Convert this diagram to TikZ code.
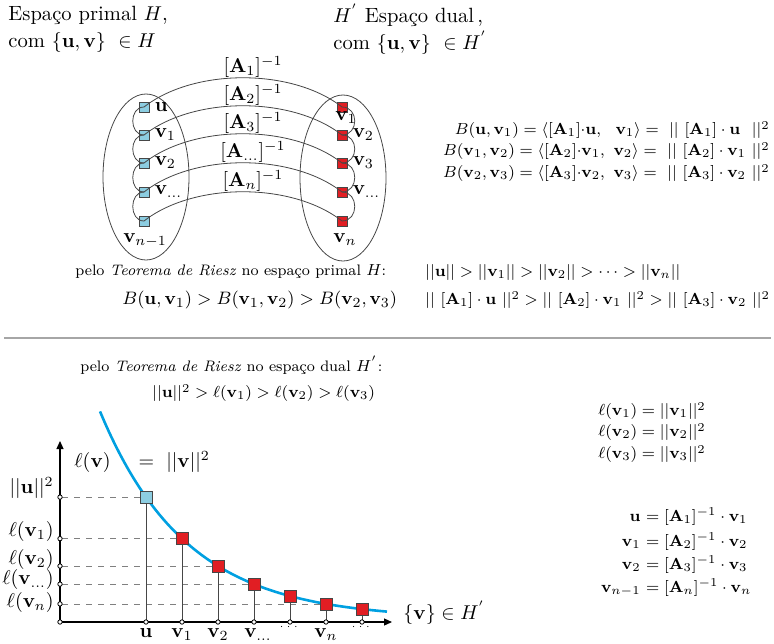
\documentclass[tikz,border=0pt]{standalone}
\usepackage{amsmath,amssymb}
\usetikzlibrary{arrows.meta,positioning,shapes.geometric}
\definecolor{primblue}{RGB}{140,205,225}
\definecolor{dualred}{RGB}{225,30,35}
\definecolor{curveblue}{RGB}{0,160,225}
\definecolor{framegray}{RGB}{70,70,70}

\begin{document}
\begin{tikzpicture}[x=0.5pt, y=-0.5pt,
    sq/.style={rectangle, minimum size=5pt, inner sep=0, draw=framegray},
    prim/.style={sq, fill=primblue},
    dualn/.style={sq, fill=dualred},
    big/.style={minimum size=6pt},
    lbl/.style={inner sep=1pt, text=black},
    tick/.style={circle, inner sep=0, minimum size=2.2pt, draw=black, fill=white},
    arcs/.style={framegray, thin},
    small/.style={font=\fontsize{7.6}{9}\selectfont},
    eqs/.style={font=\fontsize{8.2}{10}\selectfont},
    defs/.style={font=\fontsize{8.5}{10}\selectfont},
    declare function={lv(\x)=622-(2.9+122*exp(-0.01156*(\x-146)));},
]
    \useasboundingbox (0,0) rectangle (774,643);

    % cabecalhos
    \node[anchor=west, align=left, inner sep=0, font=\fontsize{10.3}{13.5}\selectfont] (hprim) at (8,29)
        {Espaço primal $H$,\\ com $\{\mathbf{u},\mathbf{v}\}\ \in H$};
    \node[anchor=west, align=left, inner sep=0, font=\fontsize{10.3}{13.5}\selectfont] (hdual) at (333,29)
        {$H^{'}$ Espaço dual\,,\\ com $\{\mathbf{u},\mathbf{v}\}\ \in H^{'}$};

    % espacos
    \node[ellipse, draw=framegray, thin, minimum width=43pt, minimum height=83pt, inner sep=0] (primal) at (146,177) {};
    \node[ellipse, draw=framegray, thin, minimum width=43pt, minimum height=83pt, inner sep=0] (dual) at (343,178) {};

    \node[prim] (l1) at (144,107) {};
    \node[prim] (l2) at (144,135) {};
    \node[prim] (l3) at (144,163) {};
    \node[prim] (l4) at (144,192) {};
    \node[prim] (l5) at (144,221) {};
    \node[dualn] (r1) at (342,107) {};
    \node[dualn] (r2) at (342,135) {};
    \node[dualn] (r3) at (342,163) {};
    \node[dualn] (r4) at (342,192) {};
    \node[dualn] (r5) at (342,221) {};

    \node[lbl, right=1.5pt of l1] (lu) {$\mathbf{u}$};
    \node[lbl, right=1.5pt of l2] (lv1) {$\mathbf{v}_1$};
    \node[lbl, right=1.5pt of l3] (lv2) {$\mathbf{v}_2$};
    \node[lbl, right=1.5pt of l4] (lvd) {$\mathbf{v}_{\ldots}$};
    \node[lbl] (lvn) at (145,240) {$\mathbf{v}_{n-1}$};
    \node[lbl] (rv1) at (346,118) {$\mathbf{v}_1$};
    \node[lbl, right=1.5pt of r2] (rv2) {$\mathbf{v}_2$};
    \node[lbl, right=1.5pt of r3] (rv3) {$\mathbf{v}_3$};
    \node[lbl, right=1.5pt of r4] (rvd) {$\mathbf{v}_{\ldots}$};
    \node[lbl] (rvn) at (345,240) {$\mathbf{v}_n$};

    \draw[arcs] (l1.center) .. controls +(-15,0) and +(-15,0) .. (l2.center);
    \draw[arcs] (l2.center) .. controls +(-15,0) and +(-15,0) .. (l3.center);
    \draw[arcs] (l3.center) .. controls +(-15,0) and +(-15,0) .. (l4.center);
    \draw[arcs] (l4.center) .. controls +(-15,0) and +(-15,0) .. (l5.center);
    \draw[arcs] (r1.center) .. controls +(17,0) and +(17,0) .. (r2.center);
    \draw[arcs] (r2.center) .. controls +(17,0) and +(17,0) .. (r3.center);
    \draw[arcs] (r3.center) .. controls +(17,0) and +(17,0) .. (r4.center);
    \draw[arcs] (r4.center) .. controls +(17,0) and +(17,0) .. (r5.center);

    \draw[arcs] (l1.center) .. controls +(50,-39) and +(-50,-39) .. (r1.center)
        node[midway, above, lbl, xshift=5pt, yshift=-1pt] (a1) {$[\mathbf{A}_1]^{-1}$};
    \draw[arcs] (l2.center) .. controls +(50,-39) and +(-50,-39) .. (r2.center)
        node[midway, above, lbl, xshift=5pt, yshift=-1pt] (a2) {$[\mathbf{A}_2]^{-1}$};
    \draw[arcs] (l3.center) .. controls +(50,-39) and +(-50,-39) .. (r3.center)
        node[midway, above, lbl, xshift=5pt, yshift=-1pt] (a3) {$[\mathbf{A}_3]^{-1}$};
    \draw[arcs] (l4.center) .. controls +(50,-39) and +(-50,-39) .. (r4.center)
        node[midway, above, lbl, xshift=5pt, yshift=-1pt] (ad) {$[\mathbf{A}_{\ldots}]^{-1}$};
    \draw[arcs] (l5.center) .. controls +(50,-39) and +(-50,-39) .. (r5.center)
        node[midway, above, lbl, xshift=5pt, yshift=-1pt] (an) {$[\mathbf{A}_n]^{-1}$};

    % formas bilineares
    \node[anchor=east, inner sep=0, eqs] (b1) at (770,130)
        {$B(\mathbf{u},\mathbf{v}_1)=\langle[\mathbf{A}_1]{\cdot}\mathbf{u},\ \ \mathbf{v}_1\rangle=\ ||\ [\mathbf{A}_1]\cdot\mathbf{u}\ \ ||^2$};
    \node[anchor=east, inner sep=0, eqs] (b2) at (770,151)
        {$B(\mathbf{v}_1,\mathbf{v}_2)=\langle[\mathbf{A}_2]{\cdot}\mathbf{v}_1,\ \mathbf{v}_2\rangle=\ ||\ [\mathbf{A}_2]\cdot\mathbf{v}_1\ ||^2$};
    \node[anchor=east, inner sep=0, eqs] (b3) at (770,173)
        {$B(\mathbf{v}_2,\mathbf{v}_3)=\langle[\mathbf{A}_3]{\cdot}\mathbf{v}_2,\ \mathbf{v}_3\rangle=\ ||\ [\mathbf{A}_3]\cdot\mathbf{v}_2\ ||^2$};

    \node[anchor=west, inner sep=0, small] (riesz1) at (75,272)
        {pelo \textit{Teorema de Riesz} no espaço primal $H$:};
    \node[anchor=west, inner sep=0, eqs] (norms) at (425,272)
        {$||\mathbf{u}||>||\mathbf{v}_1||>||\mathbf{v}_2||>\cdots>||\mathbf{v}_n||$};
    \node[anchor=west, inner sep=0, font=\fontsize{9.3}{11}\selectfont] (bchain) at (122,300)
        {$B(\mathbf{u},\mathbf{v}_1)>B(\mathbf{v}_1,\mathbf{v}_2)>B(\mathbf{v}_2,\mathbf{v}_3)$};
    \node[anchor=west, inner sep=0, eqs] (achain) at (425,300)
        {$||\ [\mathbf{A}_1]\cdot\mathbf{u}\ ||^2>||\ [\mathbf{A}_2]\cdot\mathbf{v}_1\ ||^2>||\ [\mathbf{A}_3]\cdot\mathbf{v}_2\ ||^2$};

    \draw[gray!70, line width=1.3pt] (4,338) -- (771,338);

    \node[anchor=west, inner sep=0, small] (riesz2) at (80,365)
        {pelo \textit{Teorema de Riesz} no espaço dual $H^{'}$:};
    \node[anchor=west, inner sep=0, eqs] (lchain) at (152,393)
        {$||\mathbf{u}||^2>\ell(\mathbf{v}_1)>\ell(\mathbf{v}_2)>\ell(\mathbf{v}_3)$};

    \node[anchor=west, inner sep=0, defs] (e1) at (598,411) {$\ell(\mathbf{v}_1)=||\mathbf{v}_1||^2$};
    \node[anchor=west, inner sep=0, defs] (e2) at (598,432) {$\ell(\mathbf{v}_2)=||\mathbf{v}_2||^2$};
    \node[anchor=west, inner sep=0, defs] (e3) at (598,454) {$\ell(\mathbf{v}_3)=||\mathbf{v}_3||^2$};

    \node[anchor=base east, inner sep=0, defs] (q1) at (641,521) {$\mathbf{u}$};
    \node[anchor=base west, inner sep=0, defs] (p1) at (641,521) {${}=[\mathbf{A}_1]^{-1}\cdot\mathbf{v}_1$};
    \node[anchor=base east, inner sep=0, defs] (q2) at (641,546) {$\mathbf{v}_1$};
    \node[anchor=base west, inner sep=0, defs] (p2) at (641,546) {${}=[\mathbf{A}_2]^{-1}\cdot\mathbf{v}_2$};
    \node[anchor=base east, inner sep=0, defs] (q3) at (641,569) {$\mathbf{v}_2$};
    \node[anchor=base west, inner sep=0, defs] (p3) at (641,569) {${}=[\mathbf{A}_3]^{-1}\cdot\mathbf{v}_3$};
    \node[anchor=base east, inner sep=0, defs] (q4) at (641,592) {$\mathbf{v}_{n-1}$};
    \node[anchor=base west, inner sep=0, defs] (p4) at (641,592) {${}=[\mathbf{A}_n]^{-1}\cdot\mathbf{v}_n$};

    % grafico
    \coordinate (O) at (60,622);
    \coordinate (ytop) at (60,441);
    \coordinate (xend) at (392,622);
    \draw[semithick, -{Triangle[length=4pt,width=3.5pt]}] (O) -- (ytop);
    \draw[semithick, -{Triangle[length=4pt,width=3.5pt]}] (O) -- (xend);
    \node[anchor=west, inner sep=0] (xname) at (403,613) {$\{\mathbf{v}\}\in H^{'}$};

    \draw[curveblue, line width=1.3pt] plot[domain=100:387, samples=60] (\x, {lv(\x)});
    \node[anchor=west, inner sep=0, font=\fontsize{10}{12}\selectfont] (lfun) at (74,462)
        {$\ell(\mathbf{v})\hspace{14pt}{=}\hspace{6pt}||\mathbf{v}||^{2}$};

    \node[sq, big, fill=primblue] (pu) at (146,{lv(146)}) {};
    \node[sq, big, fill=dualred] (p1v) at (182,{lv(182)}) {};
    \node[sq, big, fill=dualred] (p2v) at (218,{lv(218)}) {};
    \node[sq, big, fill=dualred] (pdv) at (254,{lv(254)}) {};
    \node[sq, big, fill=dualred] (pe1) at (290,{lv(290)}) {};
    \node[sq, big, fill=dualred] (pnv) at (326,{lv(326)}) {};
    \node[sq, big, fill=dualred] (pe2) at (362,{lv(362)}) {};

    \foreach \p in {pu,p1v,p2v,pdv,pnv}
        \draw[gray, dashed] (\p.west) -- (\p -| O);
    \foreach \p in {pu,p1v,p2v,pdv,pe1,pnv,pe2}
        \draw[framegray] (\p.south) -- (\p |- O);
    \foreach \p in {pu,p1v,p2v,pdv,pnv}
        \node[tick] at (\p -| O) {};
    \foreach \p in {pu,p1v,p2v,pdv,pe1,pnv,pe2}
        \node[tick] at (\p |- O) {};
    \node[tick] at (O) {};

    \node[anchor=east, inner sep=0] (yu) at (54,488) {$||\mathbf{u}||^2$};
    \node[anchor=east, inner sep=0] (y1) at (54,531) {$\ell(\mathbf{v}_1)$};
    \node[anchor=east, inner sep=0] (y2) at (54,559) {$\ell(\mathbf{v}_2)$};
    \node[anchor=east, inner sep=0] (yd) at (54,579) {$\ell(\mathbf{v}_{\ldots})$};
    \node[anchor=east, inner sep=0] (yn) at (54,602) {$\ell(\mathbf{v}_n)$};

    \node[anchor=base, inner sep=0] (xu) at (146,637) {$\mathbf{u}$};
    \node[anchor=base, inner sep=0] (x1) at (182,637) {$\mathbf{v}_1$};
    \node[anchor=base, inner sep=0] (x2) at (218,637) {$\mathbf{v}_2$};
    \node[anchor=base, inner sep=0] (xd) at (258,637) {$\mathbf{v}_{\ldots}$};
    \node[inner sep=0, font=\fontsize{4}{4}\selectfont] (xe1) at (290,627) {$\cdots$};
    \node[anchor=base, inner sep=0] (xn) at (326,637) {$\mathbf{v}_n$};
    \node[inner sep=0, font=\fontsize{4}{4}\selectfont] (xe2) at (362,627) {$\cdots$};
\end{tikzpicture}
\end{document}
